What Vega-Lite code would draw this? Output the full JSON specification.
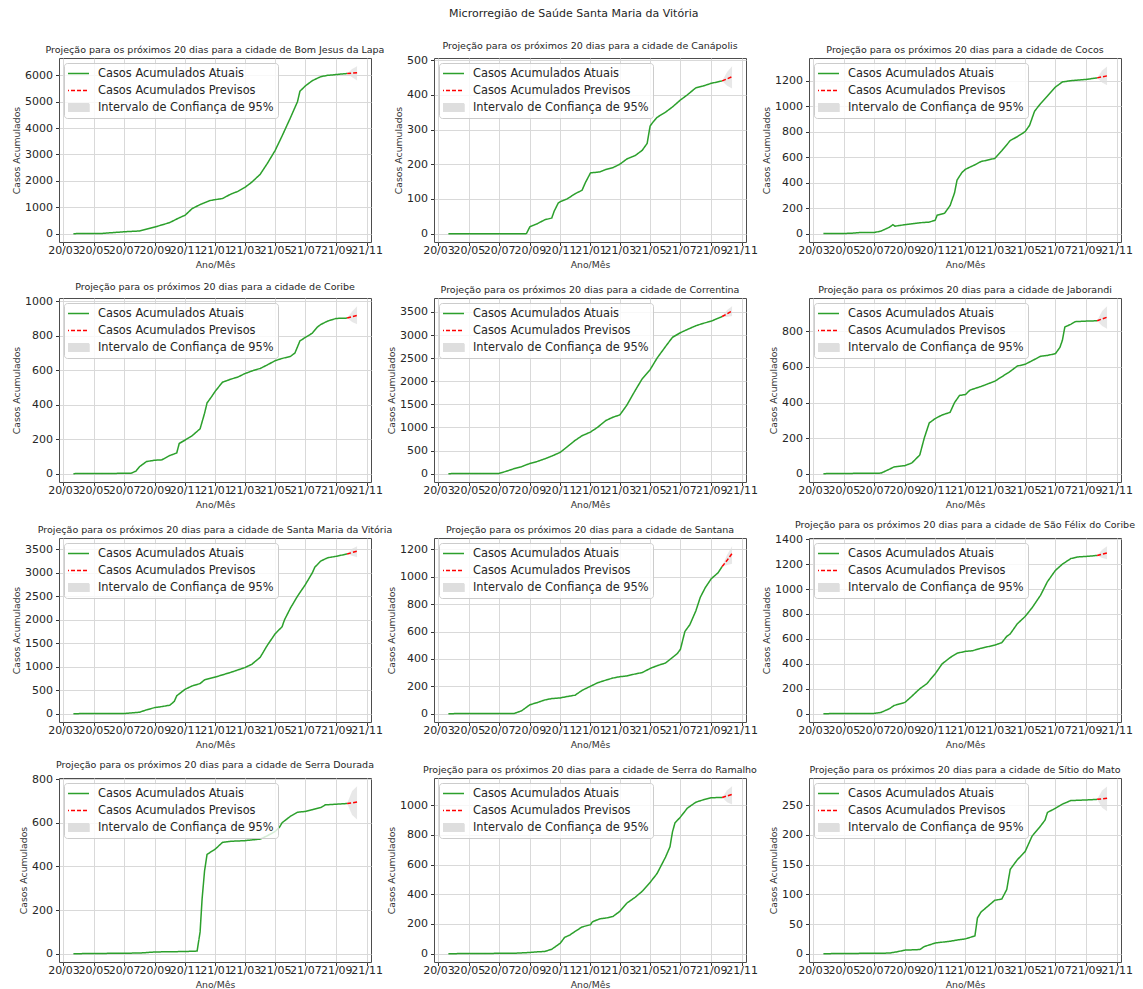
{
"$schema": "https://vega.github.io/schema/vega-lite/v6.json",
"background": "white",
"padding": {"left": 12, "top": 8, "right": 5, "bottom": 0},
"title": {"text": "Microrregião de Saúde Santa Maria da Vitória", "fontSize": 11, "offset": 21},
"datasets": {"casos": [
{"cidade":"Bom Jesus da Lapa","data":"2020-03-21","tipo":"atual","valor":0},
{"cidade":"Bom Jesus da Lapa","data":"2020-05-15","tipo":"atual","valor":5},
{"cidade":"Bom Jesus da Lapa","data":"2020-07-01","tipo":"atual","valor":70},
{"cidade":"Bom Jesus da Lapa","data":"2020-08-01","tipo":"atual","valor":100},
{"cidade":"Bom Jesus da Lapa","data":"2020-09-01","tipo":"atual","valor":250},
{"cidade":"Bom Jesus da Lapa","data":"2020-10-01","tipo":"atual","valor":420},
{"cidade":"Bom Jesus da Lapa","data":"2020-10-20","tipo":"atual","valor":600},
{"cidade":"Bom Jesus da Lapa","data":"2020-11-01","tipo":"atual","valor":700},
{"cidade":"Bom Jesus da Lapa","data":"2020-11-15","tipo":"atual","valor":950},
{"cidade":"Bom Jesus da Lapa","data":"2020-12-01","tipo":"atual","valor":1100},
{"cidade":"Bom Jesus da Lapa","data":"2020-12-20","tipo":"atual","valor":1250},
{"cidade":"Bom Jesus da Lapa","data":"2021-01-01","tipo":"atual","valor":1290},
{"cidade":"Bom Jesus da Lapa","data":"2021-01-15","tipo":"atual","valor":1330},
{"cidade":"Bom Jesus da Lapa","data":"2021-02-01","tipo":"atual","valor":1500},
{"cidade":"Bom Jesus da Lapa","data":"2021-02-15","tipo":"atual","valor":1600},
{"cidade":"Bom Jesus da Lapa","data":"2021-03-01","tipo":"atual","valor":1750},
{"cidade":"Bom Jesus da Lapa","data":"2021-03-15","tipo":"atual","valor":1950},
{"cidade":"Bom Jesus da Lapa","data":"2021-04-01","tipo":"atual","valor":2250},
{"cidade":"Bom Jesus da Lapa","data":"2021-04-15","tipo":"atual","valor":2650},
{"cidade":"Bom Jesus da Lapa","data":"2021-05-01","tipo":"atual","valor":3150},
{"cidade":"Bom Jesus da Lapa","data":"2021-05-15","tipo":"atual","valor":3700},
{"cidade":"Bom Jesus da Lapa","data":"2021-06-01","tipo":"atual","valor":4400},
{"cidade":"Bom Jesus da Lapa","data":"2021-06-15","tipo":"atual","valor":5000},
{"cidade":"Bom Jesus da Lapa","data":"2021-06-20","tipo":"atual","valor":5400},
{"cidade":"Bom Jesus da Lapa","data":"2021-07-01","tipo":"atual","valor":5600},
{"cidade":"Bom Jesus da Lapa","data":"2021-07-15","tipo":"atual","valor":5800},
{"cidade":"Bom Jesus da Lapa","data":"2021-08-01","tipo":"atual","valor":5950},
{"cidade":"Bom Jesus da Lapa","data":"2021-08-15","tipo":"atual","valor":6000},
{"cidade":"Bom Jesus da Lapa","data":"2021-09-01","tipo":"atual","valor":6030},
{"cidade":"Bom Jesus da Lapa","data":"2021-09-23","tipo":"atual","valor":6070},
{"cidade":"Bom Jesus da Lapa","data":"2021-09-23","tipo":"previsto","valor":6070,"inferior":6070,"superior":6070},
{"cidade":"Bom Jesus da Lapa","data":"2021-10-03","tipo":"previsto","valor":6085,"inferior":5930,"superior":6240},
{"cidade":"Bom Jesus da Lapa","data":"2021-10-13","tipo":"previsto","valor":6100,"inferior":5800,"superior":6340},

{"cidade":"Canápolis","data":"2020-03-21","tipo":"atual","valor":0},
{"cidade":"Canápolis","data":"2020-08-25","tipo":"atual","valor":0},
{"cidade":"Canápolis","data":"2020-09-01","tipo":"atual","valor":20},
{"cidade":"Canápolis","data":"2020-09-15","tipo":"atual","valor":28},
{"cidade":"Canápolis","data":"2020-10-01","tipo":"atual","valor":40},
{"cidade":"Canápolis","data":"2020-10-15","tipo":"atual","valor":45},
{"cidade":"Canápolis","data":"2020-10-20","tipo":"atual","valor":65},
{"cidade":"Canápolis","data":"2020-10-28","tipo":"atual","valor":88},
{"cidade":"Canápolis","data":"2020-11-01","tipo":"atual","valor":92},
{"cidade":"Canápolis","data":"2020-11-15","tipo":"atual","valor":100},
{"cidade":"Canápolis","data":"2020-12-01","tipo":"atual","valor":115},
{"cidade":"Canápolis","data":"2020-12-15","tipo":"atual","valor":125},
{"cidade":"Canápolis","data":"2020-12-22","tipo":"atual","valor":148},
{"cidade":"Canápolis","data":"2021-01-01","tipo":"atual","valor":175},
{"cidade":"Canápolis","data":"2021-01-20","tipo":"atual","valor":178},
{"cidade":"Canápolis","data":"2021-02-01","tipo":"atual","valor":185},
{"cidade":"Canápolis","data":"2021-02-15","tipo":"atual","valor":190},
{"cidade":"Canápolis","data":"2021-03-01","tipo":"atual","valor":200},
{"cidade":"Canápolis","data":"2021-03-15","tipo":"atual","valor":215},
{"cidade":"Canápolis","data":"2021-04-01","tipo":"atual","valor":225},
{"cidade":"Canápolis","data":"2021-04-15","tipo":"atual","valor":240},
{"cidade":"Canápolis","data":"2021-04-25","tipo":"atual","valor":260},
{"cidade":"Canápolis","data":"2021-05-01","tipo":"atual","valor":310},
{"cidade":"Canápolis","data":"2021-05-05","tipo":"atual","valor":318},
{"cidade":"Canápolis","data":"2021-05-15","tipo":"atual","valor":335},
{"cidade":"Canápolis","data":"2021-06-01","tipo":"atual","valor":350},
{"cidade":"Canápolis","data":"2021-06-15","tipo":"atual","valor":365},
{"cidade":"Canápolis","data":"2021-07-01","tipo":"atual","valor":385},
{"cidade":"Canápolis","data":"2021-07-15","tipo":"atual","valor":400},
{"cidade":"Canápolis","data":"2021-08-01","tipo":"atual","valor":420},
{"cidade":"Canápolis","data":"2021-08-15","tipo":"atual","valor":425},
{"cidade":"Canápolis","data":"2021-09-01","tipo":"atual","valor":433},
{"cidade":"Canápolis","data":"2021-09-23","tipo":"atual","valor":440},
{"cidade":"Canápolis","data":"2021-09-23","tipo":"previsto","valor":440,"inferior":440,"superior":440},
{"cidade":"Canápolis","data":"2021-10-03","tipo":"previsto","valor":446,"inferior":426,"superior":466},
{"cidade":"Canápolis","data":"2021-10-13","tipo":"previsto","valor":452,"inferior":418,"superior":482},

{"cidade":"Cocos","data":"2020-03-21","tipo":"atual","valor":0},
{"cidade":"Cocos","data":"2020-05-15","tipo":"atual","valor":2},
{"cidade":"Cocos","data":"2020-06-01","tipo":"atual","valor":8},
{"cidade":"Cocos","data":"2020-07-01","tipo":"atual","valor":8},
{"cidade":"Cocos","data":"2020-07-15","tipo":"atual","valor":20},
{"cidade":"Cocos","data":"2020-08-01","tipo":"atual","valor":50},
{"cidade":"Cocos","data":"2020-08-08","tipo":"atual","valor":70},
{"cidade":"Cocos","data":"2020-08-12","tipo":"atual","valor":58},
{"cidade":"Cocos","data":"2020-09-01","tipo":"atual","valor":70},
{"cidade":"Cocos","data":"2020-10-01","tipo":"atual","valor":85},
{"cidade":"Cocos","data":"2020-10-20","tipo":"atual","valor":90},
{"cidade":"Cocos","data":"2020-11-01","tipo":"atual","valor":105},
{"cidade":"Cocos","data":"2020-11-05","tipo":"atual","valor":145},
{"cidade":"Cocos","data":"2020-11-20","tipo":"atual","valor":160},
{"cidade":"Cocos","data":"2020-12-01","tipo":"atual","valor":220},
{"cidade":"Cocos","data":"2020-12-10","tipo":"atual","valor":320},
{"cidade":"Cocos","data":"2020-12-15","tipo":"atual","valor":420},
{"cidade":"Cocos","data":"2020-12-25","tipo":"atual","valor":480},
{"cidade":"Cocos","data":"2021-01-01","tipo":"atual","valor":505},
{"cidade":"Cocos","data":"2021-01-20","tipo":"atual","valor":540},
{"cidade":"Cocos","data":"2021-02-01","tipo":"atual","valor":565},
{"cidade":"Cocos","data":"2021-03-01","tipo":"atual","valor":590},
{"cidade":"Cocos","data":"2021-03-15","tipo":"atual","valor":650},
{"cidade":"Cocos","data":"2021-04-01","tipo":"atual","valor":730},
{"cidade":"Cocos","data":"2021-04-15","tipo":"atual","valor":760},
{"cidade":"Cocos","data":"2021-05-01","tipo":"atual","valor":800},
{"cidade":"Cocos","data":"2021-05-10","tipo":"atual","valor":850},
{"cidade":"Cocos","data":"2021-05-20","tipo":"atual","valor":960},
{"cidade":"Cocos","data":"2021-06-01","tipo":"atual","valor":1020},
{"cidade":"Cocos","data":"2021-06-15","tipo":"atual","valor":1080},
{"cidade":"Cocos","data":"2021-07-01","tipo":"atual","valor":1150},
{"cidade":"Cocos","data":"2021-07-15","tipo":"atual","valor":1190},
{"cidade":"Cocos","data":"2021-08-01","tipo":"atual","valor":1200},
{"cidade":"Cocos","data":"2021-09-01","tipo":"atual","valor":1210},
{"cidade":"Cocos","data":"2021-09-23","tipo":"atual","valor":1222},
{"cidade":"Cocos","data":"2021-09-23","tipo":"previsto","valor":1222,"inferior":1222,"superior":1222},
{"cidade":"Cocos","data":"2021-10-03","tipo":"previsto","valor":1230,"inferior":1185,"superior":1280},
{"cidade":"Cocos","data":"2021-10-13","tipo":"previsto","valor":1238,"inferior":1165,"superior":1312},

{"cidade":"Coribe","data":"2020-03-21","tipo":"atual","valor":0},
{"cidade":"Coribe","data":"2020-07-15","tipo":"atual","valor":2},
{"cidade":"Coribe","data":"2020-07-25","tipo":"atual","valor":15},
{"cidade":"Coribe","data":"2020-08-01","tipo":"atual","valor":40},
{"cidade":"Coribe","data":"2020-08-15","tipo":"atual","valor":70},
{"cidade":"Coribe","data":"2020-09-01","tipo":"atual","valor":78},
{"cidade":"Coribe","data":"2020-09-15","tipo":"atual","valor":80},
{"cidade":"Coribe","data":"2020-10-01","tipo":"atual","valor":105},
{"cidade":"Coribe","data":"2020-10-15","tipo":"atual","valor":120},
{"cidade":"Coribe","data":"2020-10-20","tipo":"atual","valor":175},
{"cidade":"Coribe","data":"2020-11-01","tipo":"atual","valor":195},
{"cidade":"Coribe","data":"2020-11-15","tipo":"atual","valor":220},
{"cidade":"Coribe","data":"2020-12-01","tipo":"atual","valor":260},
{"cidade":"Coribe","data":"2020-12-10","tipo":"atual","valor":350},
{"cidade":"Coribe","data":"2020-12-15","tipo":"atual","valor":410},
{"cidade":"Coribe","data":"2020-12-25","tipo":"atual","valor":450},
{"cidade":"Coribe","data":"2021-01-01","tipo":"atual","valor":480},
{"cidade":"Coribe","data":"2021-01-15","tipo":"atual","valor":530},
{"cidade":"Coribe","data":"2021-02-01","tipo":"atual","valor":548},
{"cidade":"Coribe","data":"2021-02-15","tipo":"atual","valor":560},
{"cidade":"Coribe","data":"2021-03-01","tipo":"atual","valor":580},
{"cidade":"Coribe","data":"2021-03-20","tipo":"atual","valor":600},
{"cidade":"Coribe","data":"2021-04-01","tipo":"atual","valor":610},
{"cidade":"Coribe","data":"2021-04-15","tipo":"atual","valor":630},
{"cidade":"Coribe","data":"2021-05-01","tipo":"atual","valor":655},
{"cidade":"Coribe","data":"2021-05-15","tipo":"atual","valor":668},
{"cidade":"Coribe","data":"2021-06-01","tipo":"atual","valor":680},
{"cidade":"Coribe","data":"2021-06-10","tipo":"atual","valor":700},
{"cidade":"Coribe","data":"2021-06-20","tipo":"atual","valor":770},
{"cidade":"Coribe","data":"2021-07-01","tipo":"atual","valor":790},
{"cidade":"Coribe","data":"2021-07-15","tipo":"atual","valor":815},
{"cidade":"Coribe","data":"2021-07-25","tipo":"atual","valor":850},
{"cidade":"Coribe","data":"2021-08-01","tipo":"atual","valor":865},
{"cidade":"Coribe","data":"2021-08-15","tipo":"atual","valor":885},
{"cidade":"Coribe","data":"2021-09-01","tipo":"atual","valor":900},
{"cidade":"Coribe","data":"2021-09-23","tipo":"atual","valor":902},
{"cidade":"Coribe","data":"2021-09-23","tipo":"previsto","valor":902,"inferior":902,"superior":902},
{"cidade":"Coribe","data":"2021-10-03","tipo":"previsto","valor":910,"inferior":880,"superior":940},
{"cidade":"Coribe","data":"2021-10-13","tipo":"previsto","valor":918,"inferior":866,"superior":970},

{"cidade":"Correntina","data":"2020-03-21","tipo":"atual","valor":0},
{"cidade":"Correntina","data":"2020-07-01","tipo":"atual","valor":5},
{"cidade":"Correntina","data":"2020-07-15","tipo":"atual","valor":50},
{"cidade":"Correntina","data":"2020-08-01","tipo":"atual","valor":110},
{"cidade":"Correntina","data":"2020-08-15","tipo":"atual","valor":150},
{"cidade":"Correntina","data":"2020-09-01","tipo":"atual","valor":220},
{"cidade":"Correntina","data":"2020-09-15","tipo":"atual","valor":260},
{"cidade":"Correntina","data":"2020-10-01","tipo":"atual","valor":320},
{"cidade":"Correntina","data":"2020-10-15","tipo":"atual","valor":380},
{"cidade":"Correntina","data":"2020-11-01","tipo":"atual","valor":460},
{"cidade":"Correntina","data":"2020-11-15","tipo":"atual","valor":580},
{"cidade":"Correntina","data":"2020-12-01","tipo":"atual","valor":720},
{"cidade":"Correntina","data":"2020-12-15","tipo":"atual","valor":820},
{"cidade":"Correntina","data":"2021-01-01","tipo":"atual","valor":900},
{"cidade":"Correntina","data":"2021-01-15","tipo":"atual","valor":1000},
{"cidade":"Correntina","data":"2021-02-01","tipo":"atual","valor":1150},
{"cidade":"Correntina","data":"2021-02-15","tipo":"atual","valor":1220},
{"cidade":"Correntina","data":"2021-03-01","tipo":"atual","valor":1270},
{"cidade":"Correntina","data":"2021-03-15","tipo":"atual","valor":1480},
{"cidade":"Correntina","data":"2021-04-01","tipo":"atual","valor":1800},
{"cidade":"Correntina","data":"2021-04-15","tipo":"atual","valor":2050},
{"cidade":"Correntina","data":"2021-05-01","tipo":"atual","valor":2250},
{"cidade":"Correntina","data":"2021-05-15","tipo":"atual","valor":2500},
{"cidade":"Correntina","data":"2021-06-01","tipo":"atual","valor":2750},
{"cidade":"Correntina","data":"2021-06-15","tipo":"atual","valor":2950},
{"cidade":"Correntina","data":"2021-07-01","tipo":"atual","valor":3050},
{"cidade":"Correntina","data":"2021-07-15","tipo":"atual","valor":3120},
{"cidade":"Correntina","data":"2021-08-01","tipo":"atual","valor":3200},
{"cidade":"Correntina","data":"2021-08-15","tipo":"atual","valor":3250},
{"cidade":"Correntina","data":"2021-09-01","tipo":"atual","valor":3300},
{"cidade":"Correntina","data":"2021-09-23","tipo":"atual","valor":3400},
{"cidade":"Correntina","data":"2021-09-23","tipo":"previsto","valor":3400,"inferior":3400,"superior":3400},
{"cidade":"Correntina","data":"2021-10-03","tipo":"previsto","valor":3460,"inferior":3390,"superior":3540},
{"cidade":"Correntina","data":"2021-10-13","tipo":"previsto","valor":3520,"inferior":3410,"superior":3620},

{"cidade":"Jaborandi","data":"2020-03-21","tipo":"atual","valor":0},
{"cidade":"Jaborandi","data":"2020-07-15","tipo":"atual","valor":3},
{"cidade":"Jaborandi","data":"2020-08-01","tipo":"atual","valor":25},
{"cidade":"Jaborandi","data":"2020-08-10","tipo":"atual","valor":38},
{"cidade":"Jaborandi","data":"2020-09-01","tipo":"atual","valor":45},
{"cidade":"Jaborandi","data":"2020-09-15","tipo":"atual","valor":60},
{"cidade":"Jaborandi","data":"2020-10-01","tipo":"atual","valor":105},
{"cidade":"Jaborandi","data":"2020-10-10","tipo":"atual","valor":200},
{"cidade":"Jaborandi","data":"2020-10-20","tipo":"atual","valor":285},
{"cidade":"Jaborandi","data":"2020-11-01","tipo":"atual","valor":310},
{"cidade":"Jaborandi","data":"2020-11-15","tipo":"atual","valor":330},
{"cidade":"Jaborandi","data":"2020-12-01","tipo":"atual","valor":345},
{"cidade":"Jaborandi","data":"2020-12-10","tipo":"atual","valor":400},
{"cidade":"Jaborandi","data":"2020-12-20","tipo":"atual","valor":440},
{"cidade":"Jaborandi","data":"2021-01-01","tipo":"atual","valor":445},
{"cidade":"Jaborandi","data":"2021-01-10","tipo":"atual","valor":470},
{"cidade":"Jaborandi","data":"2021-02-01","tipo":"atual","valor":490},
{"cidade":"Jaborandi","data":"2021-03-01","tipo":"atual","valor":520},
{"cidade":"Jaborandi","data":"2021-04-01","tipo":"atual","valor":575},
{"cidade":"Jaborandi","data":"2021-04-15","tipo":"atual","valor":605},
{"cidade":"Jaborandi","data":"2021-05-01","tipo":"atual","valor":615},
{"cidade":"Jaborandi","data":"2021-05-15","tipo":"atual","valor":635},
{"cidade":"Jaborandi","data":"2021-06-01","tipo":"atual","valor":660},
{"cidade":"Jaborandi","data":"2021-06-15","tipo":"atual","valor":665},
{"cidade":"Jaborandi","data":"2021-07-01","tipo":"atual","valor":675},
{"cidade":"Jaborandi","data":"2021-07-10","tipo":"atual","valor":710},
{"cidade":"Jaborandi","data":"2021-07-15","tipo":"atual","valor":750},
{"cidade":"Jaborandi","data":"2021-07-20","tipo":"atual","valor":825},
{"cidade":"Jaborandi","data":"2021-08-01","tipo":"atual","valor":840},
{"cidade":"Jaborandi","data":"2021-08-10","tipo":"atual","valor":855},
{"cidade":"Jaborandi","data":"2021-09-01","tipo":"atual","valor":858},
{"cidade":"Jaborandi","data":"2021-09-23","tipo":"atual","valor":860},
{"cidade":"Jaborandi","data":"2021-09-23","tipo":"previsto","valor":860,"inferior":860,"superior":860},
{"cidade":"Jaborandi","data":"2021-10-03","tipo":"previsto","valor":870,"inferior":830,"superior":915},
{"cidade":"Jaborandi","data":"2021-10-13","tipo":"previsto","valor":880,"inferior":815,"superior":941},

{"cidade":"Santa Maria da Vitória","data":"2020-03-21","tipo":"atual","valor":0},
{"cidade":"Santa Maria da Vitória","data":"2020-07-01","tipo":"atual","valor":3},
{"cidade":"Santa Maria da Vitória","data":"2020-08-01","tipo":"atual","valor":30},
{"cidade":"Santa Maria da Vitória","data":"2020-08-15","tipo":"atual","valor":80},
{"cidade":"Santa Maria da Vitória","data":"2020-09-01","tipo":"atual","valor":130},
{"cidade":"Santa Maria da Vitória","data":"2020-09-15","tipo":"atual","valor":150},
{"cidade":"Santa Maria da Vitória","data":"2020-10-01","tipo":"atual","valor":180},
{"cidade":"Santa Maria da Vitória","data":"2020-10-10","tipo":"atual","valor":260},
{"cidade":"Santa Maria da Vitória","data":"2020-10-15","tipo":"atual","valor":380},
{"cidade":"Santa Maria da Vitória","data":"2020-11-01","tipo":"atual","valor":520},
{"cidade":"Santa Maria da Vitória","data":"2020-11-15","tipo":"atual","valor":590},
{"cidade":"Santa Maria da Vitória","data":"2020-12-01","tipo":"atual","valor":640},
{"cidade":"Santa Maria da Vitória","data":"2020-12-10","tipo":"atual","valor":720},
{"cidade":"Santa Maria da Vitória","data":"2021-01-01","tipo":"atual","valor":780},
{"cidade":"Santa Maria da Vitória","data":"2021-02-01","tipo":"atual","valor":880},
{"cidade":"Santa Maria da Vitória","data":"2021-03-01","tipo":"atual","valor":980},
{"cidade":"Santa Maria da Vitória","data":"2021-03-15","tipo":"atual","valor":1050},
{"cidade":"Santa Maria da Vitória","data":"2021-04-01","tipo":"atual","valor":1200},
{"cidade":"Santa Maria da Vitória","data":"2021-04-15","tipo":"atual","valor":1450},
{"cidade":"Santa Maria da Vitória","data":"2021-05-01","tipo":"atual","valor":1700},
{"cidade":"Santa Maria da Vitória","data":"2021-05-15","tipo":"atual","valor":1850},
{"cidade":"Santa Maria da Vitória","data":"2021-05-20","tipo":"atual","valor":2000},
{"cidade":"Santa Maria da Vitória","data":"2021-06-01","tipo":"atual","valor":2250},
{"cidade":"Santa Maria da Vitória","data":"2021-06-15","tipo":"atual","valor":2500},
{"cidade":"Santa Maria da Vitória","data":"2021-07-01","tipo":"atual","valor":2750},
{"cidade":"Santa Maria da Vitória","data":"2021-07-15","tipo":"atual","valor":3000},
{"cidade":"Santa Maria da Vitória","data":"2021-07-20","tipo":"atual","valor":3120},
{"cidade":"Santa Maria da Vitória","data":"2021-08-01","tipo":"atual","valor":3250},
{"cidade":"Santa Maria da Vitória","data":"2021-08-15","tipo":"atual","valor":3320},
{"cidade":"Santa Maria da Vitória","data":"2021-09-01","tipo":"atual","valor":3350},
{"cidade":"Santa Maria da Vitória","data":"2021-09-23","tipo":"atual","valor":3400},
{"cidade":"Santa Maria da Vitória","data":"2021-09-23","tipo":"previsto","valor":3400,"inferior":3400,"superior":3400},
{"cidade":"Santa Maria da Vitória","data":"2021-10-03","tipo":"previsto","valor":3430,"inferior":3360,"superior":3510},
{"cidade":"Santa Maria da Vitória","data":"2021-10-13","tipo":"previsto","valor":3460,"inferior":3330,"superior":3562},

{"cidade":"Santana","data":"2020-03-21","tipo":"atual","valor":0},
{"cidade":"Santana","data":"2020-08-01","tipo":"atual","valor":2},
{"cidade":"Santana","data":"2020-08-15","tipo":"atual","valor":20},
{"cidade":"Santana","data":"2020-09-01","tipo":"atual","valor":65},
{"cidade":"Santana","data":"2020-09-15","tipo":"atual","valor":80},
{"cidade":"Santana","data":"2020-10-01","tipo":"atual","valor":100},
{"cidade":"Santana","data":"2020-10-15","tipo":"atual","valor":110},
{"cidade":"Santana","data":"2020-11-01","tipo":"atual","valor":115},
{"cidade":"Santana","data":"2020-11-15","tipo":"atual","valor":125},
{"cidade":"Santana","data":"2020-12-01","tipo":"atual","valor":135},
{"cidade":"Santana","data":"2020-12-15","tipo":"atual","valor":170},
{"cidade":"Santana","data":"2021-01-01","tipo":"atual","valor":200},
{"cidade":"Santana","data":"2021-01-15","tipo":"atual","valor":225},
{"cidade":"Santana","data":"2021-02-01","tipo":"atual","valor":245},
{"cidade":"Santana","data":"2021-02-15","tipo":"atual","valor":260},
{"cidade":"Santana","data":"2021-03-01","tipo":"atual","valor":270},
{"cidade":"Santana","data":"2021-03-15","tipo":"atual","valor":275},
{"cidade":"Santana","data":"2021-04-01","tipo":"atual","valor":290},
{"cidade":"Santana","data":"2021-04-15","tipo":"atual","valor":300},
{"cidade":"Santana","data":"2021-05-01","tipo":"atual","valor":330},
{"cidade":"Santana","data":"2021-05-15","tipo":"atual","valor":350},
{"cidade":"Santana","data":"2021-06-01","tipo":"atual","valor":370},
{"cidade":"Santana","data":"2021-06-15","tipo":"atual","valor":410},
{"cidade":"Santana","data":"2021-06-25","tipo":"atual","valor":440},
{"cidade":"Santana","data":"2021-07-01","tipo":"atual","valor":470},
{"cidade":"Santana","data":"2021-07-10","tipo":"atual","valor":600},
{"cidade":"Santana","data":"2021-07-20","tipo":"atual","valor":650},
{"cidade":"Santana","data":"2021-08-01","tipo":"atual","valor":750},
{"cidade":"Santana","data":"2021-08-10","tipo":"atual","valor":850},
{"cidade":"Santana","data":"2021-08-20","tipo":"atual","valor":920},
{"cidade":"Santana","data":"2021-09-01","tipo":"atual","valor":985},
{"cidade":"Santana","data":"2021-09-15","tipo":"atual","valor":1030},
{"cidade":"Santana","data":"2021-09-23","tipo":"atual","valor":1075},
{"cidade":"Santana","data":"2021-09-23","tipo":"previsto","valor":1075,"inferior":1075,"superior":1075},
{"cidade":"Santana","data":"2021-10-03","tipo":"previsto","valor":1120,"inferior":1085,"superior":1160},
{"cidade":"Santana","data":"2021-10-13","tipo":"previsto","valor":1170,"inferior":1095,"superior":1222},

{"cidade":"São Félix do Coribe","data":"2020-03-21","tipo":"atual","valor":0},
{"cidade":"São Félix do Coribe","data":"2020-07-01","tipo":"atual","valor":2},
{"cidade":"São Félix do Coribe","data":"2020-07-15","tipo":"atual","valor":10},
{"cidade":"São Félix do Coribe","data":"2020-08-01","tipo":"atual","valor":40},
{"cidade":"São Félix do Coribe","data":"2020-08-10","tipo":"atual","valor":65},
{"cidade":"São Félix do Coribe","data":"2020-09-01","tipo":"atual","valor":90},
{"cidade":"São Félix do Coribe","data":"2020-09-15","tipo":"atual","valor":140},
{"cidade":"São Félix do Coribe","data":"2020-10-01","tipo":"atual","valor":200},
{"cidade":"São Félix do Coribe","data":"2020-10-15","tipo":"atual","valor":240},
{"cidade":"São Félix do Coribe","data":"2020-11-01","tipo":"atual","valor":320},
{"cidade":"São Félix do Coribe","data":"2020-11-15","tipo":"atual","valor":400},
{"cidade":"São Félix do Coribe","data":"2020-12-01","tipo":"atual","valor":450},
{"cidade":"São Félix do Coribe","data":"2020-12-15","tipo":"atual","valor":485},
{"cidade":"São Félix do Coribe","data":"2021-01-01","tipo":"atual","valor":500},
{"cidade":"São Félix do Coribe","data":"2021-01-15","tipo":"atual","valor":505},
{"cidade":"São Félix do Coribe","data":"2021-02-01","tipo":"atual","valor":525},
{"cidade":"São Félix do Coribe","data":"2021-03-01","tipo":"atual","valor":550},
{"cidade":"São Félix do Coribe","data":"2021-03-15","tipo":"atual","valor":570},
{"cidade":"São Félix do Coribe","data":"2021-03-25","tipo":"atual","valor":620},
{"cidade":"São Félix do Coribe","data":"2021-04-01","tipo":"atual","valor":640},
{"cidade":"São Félix do Coribe","data":"2021-04-15","tipo":"atual","valor":720},
{"cidade":"São Félix do Coribe","data":"2021-05-01","tipo":"atual","valor":780},
{"cidade":"São Félix do Coribe","data":"2021-05-15","tipo":"atual","valor":850},
{"cidade":"São Félix do Coribe","data":"2021-06-01","tipo":"atual","valor":950},
{"cidade":"São Félix do Coribe","data":"2021-06-15","tipo":"atual","valor":1060},
{"cidade":"São Félix do Coribe","data":"2021-07-01","tipo":"atual","valor":1150},
{"cidade":"São Félix do Coribe","data":"2021-07-15","tipo":"atual","valor":1200},
{"cidade":"São Félix do Coribe","data":"2021-08-01","tipo":"atual","valor":1245},
{"cidade":"São Félix do Coribe","data":"2021-08-15","tipo":"atual","valor":1258},
{"cidade":"São Félix do Coribe","data":"2021-09-01","tipo":"atual","valor":1262},
{"cidade":"São Félix do Coribe","data":"2021-09-23","tipo":"atual","valor":1270},
{"cidade":"São Félix do Coribe","data":"2021-09-23","tipo":"previsto","valor":1270,"inferior":1270,"superior":1270},
{"cidade":"São Félix do Coribe","data":"2021-10-03","tipo":"previsto","valor":1280,"inferior":1250,"superior":1315},
{"cidade":"São Félix do Coribe","data":"2021-10-13","tipo":"previsto","valor":1290,"inferior":1240,"superior":1343},

{"cidade":"Serra Dourada","data":"2020-03-21","tipo":"atual","valor":0},
{"cidade":"Serra Dourada","data":"2020-08-01","tipo":"atual","valor":3},
{"cidade":"Serra Dourada","data":"2020-09-01","tipo":"atual","valor":8},
{"cidade":"Serra Dourada","data":"2020-11-01","tipo":"atual","valor":10},
{"cidade":"Serra Dourada","data":"2020-11-25","tipo":"atual","valor":12},
{"cidade":"Serra Dourada","data":"2020-12-01","tipo":"atual","valor":100},
{"cidade":"Serra Dourada","data":"2020-12-05","tipo":"atual","valor":250},
{"cidade":"Serra Dourada","data":"2020-12-10","tipo":"atual","valor":380},
{"cidade":"Serra Dourada","data":"2020-12-15","tipo":"atual","valor":455},
{"cidade":"Serra Dourada","data":"2021-01-01","tipo":"atual","valor":480},
{"cidade":"Serra Dourada","data":"2021-01-15","tipo":"atual","valor":510},
{"cidade":"Serra Dourada","data":"2021-02-01","tipo":"atual","valor":515},
{"cidade":"Serra Dourada","data":"2021-03-01","tipo":"atual","valor":518},
{"cidade":"Serra Dourada","data":"2021-04-01","tipo":"atual","valor":525},
{"cidade":"Serra Dourada","data":"2021-04-15","tipo":"atual","valor":540},
{"cidade":"Serra Dourada","data":"2021-05-01","tipo":"atual","valor":560},
{"cidade":"Serra Dourada","data":"2021-05-10","tipo":"atual","valor":580},
{"cidade":"Serra Dourada","data":"2021-05-15","tipo":"atual","valor":600},
{"cidade":"Serra Dourada","data":"2021-06-01","tipo":"atual","valor":630},
{"cidade":"Serra Dourada","data":"2021-06-15","tipo":"atual","valor":648},
{"cidade":"Serra Dourada","data":"2021-07-01","tipo":"atual","valor":652},
{"cidade":"Serra Dourada","data":"2021-07-15","tipo":"atual","valor":660},
{"cidade":"Serra Dourada","data":"2021-08-01","tipo":"atual","valor":670},
{"cidade":"Serra Dourada","data":"2021-08-10","tipo":"atual","valor":682},
{"cidade":"Serra Dourada","data":"2021-09-01","tipo":"atual","valor":685},
{"cidade":"Serra Dourada","data":"2021-09-23","tipo":"atual","valor":688},
{"cidade":"Serra Dourada","data":"2021-09-23","tipo":"previsto","valor":688,"inferior":688,"superior":688},
{"cidade":"Serra Dourada","data":"2021-10-03","tipo":"previsto","valor":691,"inferior":635,"superior":745},
{"cidade":"Serra Dourada","data":"2021-10-13","tipo":"previsto","valor":695,"inferior":615,"superior":767},

{"cidade":"Serra do Ramalho","data":"2020-03-21","tipo":"atual","valor":0},
{"cidade":"Serra do Ramalho","data":"2020-08-01","tipo":"atual","valor":3},
{"cidade":"Serra do Ramalho","data":"2020-09-01","tipo":"atual","valor":8},
{"cidade":"Serra do Ramalho","data":"2020-09-15","tipo":"atual","valor":12},
{"cidade":"Serra do Ramalho","data":"2020-10-01","tipo":"atual","valor":15},
{"cidade":"Serra do Ramalho","data":"2020-10-15","tipo":"atual","valor":30},
{"cidade":"Serra do Ramalho","data":"2020-11-01","tipo":"atual","valor":70},
{"cidade":"Serra do Ramalho","data":"2020-11-10","tipo":"atual","valor":110},
{"cidade":"Serra do Ramalho","data":"2020-11-20","tipo":"atual","valor":125},
{"cidade":"Serra do Ramalho","data":"2020-12-01","tipo":"atual","valor":150},
{"cidade":"Serra do Ramalho","data":"2020-12-15","tipo":"atual","valor":180},
{"cidade":"Serra do Ramalho","data":"2021-01-01","tipo":"atual","valor":195},
{"cidade":"Serra do Ramalho","data":"2021-01-05","tipo":"atual","valor":215},
{"cidade":"Serra do Ramalho","data":"2021-01-20","tipo":"atual","valor":235},
{"cidade":"Serra do Ramalho","data":"2021-02-01","tipo":"atual","valor":240},
{"cidade":"Serra do Ramalho","data":"2021-02-15","tipo":"atual","valor":250},
{"cidade":"Serra do Ramalho","data":"2021-03-01","tipo":"atual","valor":285},
{"cidade":"Serra do Ramalho","data":"2021-03-15","tipo":"atual","valor":340},
{"cidade":"Serra do Ramalho","data":"2021-04-01","tipo":"atual","valor":380},
{"cidade":"Serra do Ramalho","data":"2021-04-15","tipo":"atual","valor":420},
{"cidade":"Serra do Ramalho","data":"2021-05-01","tipo":"atual","valor":480},
{"cidade":"Serra do Ramalho","data":"2021-05-15","tipo":"atual","valor":540},
{"cidade":"Serra do Ramalho","data":"2021-06-01","tipo":"atual","valor":650},
{"cidade":"Serra do Ramalho","data":"2021-06-10","tipo":"atual","valor":720},
{"cidade":"Serra do Ramalho","data":"2021-06-15","tipo":"atual","valor":820},
{"cidade":"Serra do Ramalho","data":"2021-06-20","tipo":"atual","valor":880},
{"cidade":"Serra do Ramalho","data":"2021-07-01","tipo":"atual","valor":920},
{"cidade":"Serra do Ramalho","data":"2021-07-15","tipo":"atual","valor":980},
{"cidade":"Serra do Ramalho","data":"2021-08-01","tipo":"atual","valor":1020},
{"cidade":"Serra do Ramalho","data":"2021-08-15","tipo":"atual","valor":1035},
{"cidade":"Serra do Ramalho","data":"2021-09-01","tipo":"atual","valor":1050},
{"cidade":"Serra do Ramalho","data":"2021-09-23","tipo":"atual","valor":1052},
{"cidade":"Serra do Ramalho","data":"2021-09-23","tipo":"previsto","valor":1052,"inferior":1052,"superior":1052},
{"cidade":"Serra do Ramalho","data":"2021-10-03","tipo":"previsto","valor":1062,"inferior":1020,"superior":1100},
{"cidade":"Serra do Ramalho","data":"2021-10-13","tipo":"previsto","valor":1072,"inferior":1005,"superior":1127},

{"cidade":"Sítio do Mato","data":"2020-03-21","tipo":"atual","valor":0},
{"cidade":"Sítio do Mato","data":"2020-08-01","tipo":"atual","valor":1},
{"cidade":"Sítio do Mato","data":"2020-08-15","tipo":"atual","valor":3},
{"cidade":"Sítio do Mato","data":"2020-09-01","tipo":"atual","valor":6},
{"cidade":"Sítio do Mato","data":"2020-10-01","tipo":"atual","valor":7},
{"cidade":"Sítio do Mato","data":"2020-10-10","tipo":"atual","valor":12},
{"cidade":"Sítio do Mato","data":"2020-11-01","tipo":"atual","valor":18},
{"cidade":"Sítio do Mato","data":"2020-12-01","tipo":"atual","valor":21},
{"cidade":"Sítio do Mato","data":"2020-12-15","tipo":"atual","valor":23},
{"cidade":"Sítio do Mato","data":"2021-01-01","tipo":"atual","valor":25},
{"cidade":"Sítio do Mato","data":"2021-01-20","tipo":"atual","valor":30},
{"cidade":"Sítio do Mato","data":"2021-01-25","tipo":"atual","valor":60},
{"cidade":"Sítio do Mato","data":"2021-02-01","tipo":"atual","valor":70},
{"cidade":"Sítio do Mato","data":"2021-02-15","tipo":"atual","valor":80},
{"cidade":"Sítio do Mato","data":"2021-03-01","tipo":"atual","valor":90},
{"cidade":"Sítio do Mato","data":"2021-03-15","tipo":"atual","valor":92},
{"cidade":"Sítio do Mato","data":"2021-03-25","tipo":"atual","valor":108},
{"cidade":"Sítio do Mato","data":"2021-04-01","tipo":"atual","valor":142},
{"cidade":"Sítio do Mato","data":"2021-04-15","tipo":"atual","valor":158},
{"cidade":"Sítio do Mato","data":"2021-05-01","tipo":"atual","valor":172},
{"cidade":"Sítio do Mato","data":"2021-05-15","tipo":"atual","valor":198},
{"cidade":"Sítio do Mato","data":"2021-06-01","tipo":"atual","valor":215},
{"cidade":"Sítio do Mato","data":"2021-06-10","tipo":"atual","valor":225},
{"cidade":"Sítio do Mato","data":"2021-06-15","tipo":"atual","valor":238},
{"cidade":"Sítio do Mato","data":"2021-07-01","tipo":"atual","valor":245},
{"cidade":"Sítio do Mato","data":"2021-07-15","tipo":"atual","valor":252},
{"cidade":"Sítio do Mato","data":"2021-08-01","tipo":"atual","valor":258},
{"cidade":"Sítio do Mato","data":"2021-09-01","tipo":"atual","valor":259},
{"cidade":"Sítio do Mato","data":"2021-09-23","tipo":"atual","valor":260},
{"cidade":"Sítio do Mato","data":"2021-09-23","tipo":"previsto","valor":260,"inferior":260,"superior":260},
{"cidade":"Sítio do Mato","data":"2021-10-03","tipo":"previsto","valor":261,"inferior":246,"superior":275},
{"cidade":"Sítio do Mato","data":"2021-10-13","tipo":"previsto","valor":262,"inferior":240,"superior":281.6}
]},
"data": {"name": "casos"},
"columns": 3,
"spacing": {"row": 56, "column": 63},
"bounds": "flush",
"resolve": {"scale": {"color": "independent", "strokeDash": "independent", "shape": "independent", "x": "independent", "y": "independent"}},
"concat": [
{"width": 312, "height": 184, "title": "Projeção para os próximos 20 dias para a cidade de Bom Jesus da Lapa",
 "transform": [{"filter": {"field": "cidade", "equal": "Bom Jesus da Lapa"}}],
 "encoding": {"x": {"field": "data", "type": "temporal", "title": "Ano/Mês", "scale": {"domain": [{"year":2020,"month":2,"date":21},{"year":2021,"month":11,"date":10}], "nice": false}, "axis": {"format": "%y/%m", "values": [{"year":2020,"month":3,"date":1},{"year":2020,"month":5,"date":1},{"year":2020,"month":7,"date":1},{"year":2020,"month":9,"date":1},{"year":2020,"month":11,"date":1},{"year":2021,"month":1,"date":1},{"year":2021,"month":3,"date":1},{"year":2021,"month":5,"date":1},{"year":2021,"month":7,"date":1},{"year":2021,"month":9,"date":1},{"year":2021,"month":11,"date":1}]}}},
 "layer": [
  {"transform": [{"filter": "datum.tipo === 'previsto'"}], "mark": {"type": "area", "opacity": 0.7},
   "encoding": {"y": {"field": "inferior", "type": "quantitative", "title": "Casos Acumulados", "scale": {"domain": [-317, 6657], "nice": false, "zero": false}, "axis": {"format": "d", "values": [0,1000,2000,3000,4000,5000,6000]}}, "y2": {"field": "superior"},
    "color": {"datum": "Intervalo de Confiança de 95%", "type": "nominal", "scale": {"domain": ["Casos Acumulados Atuais", "Casos Acumulados Previsos", "Intervalo de Confiança de 95%"], "range": ["#2ca02c", "#ff0000", "#dedede"]}, "legend": {"title": null}}}},
  {"transform": [{"filter": "datum.tipo === 'atual'"}], "mark": {"type": "line"},
   "encoding": {"y": {"field": "valor", "type": "quantitative", "title": "Casos Acumulados", "axis": {"format": "d", "values": [0,1000,2000,3000,4000,5000,6000]}},
    "color": {"datum": "Casos Acumulados Atuais", "type": "nominal", "legend": {"title": null}},
    "strokeDash": {"datum": "Casos Acumulados Atuais", "type": "nominal", "scale": {"domain": ["Casos Acumulados Atuais", "Casos Acumulados Previsos", "Intervalo de Confiança de 95%"], "range": [[1,0],[4,2],[1,0]]}, "legend": {"title": null}}}},
  {"transform": [{"filter": "datum.tipo === 'previsto'"}], "mark": {"type": "line"},
   "encoding": {"y": {"field": "valor", "type": "quantitative", "title": "Casos Acumulados", "axis": {"format": "d", "values": [0,1000,2000,3000,4000,5000,6000]}},
    "color": {"datum": "Casos Acumulados Previsos", "type": "nominal", "legend": {"title": null}},
    "strokeDash": {"datum": "Casos Acumulados Previsos", "type": "nominal", "legend": {"title": null}}}},
  {"transform": [{"filter": "datum.tipo === 'previsto'"}], "mark": {"type": "point", "opacity": 0},
   "encoding": {"y": {"field": "valor", "type": "quantitative", "title": "Casos Acumulados", "axis": {"format": "d", "values": [0,1000,2000,3000,4000,5000,6000]}},
    "shape": {"datum": "Intervalo de Confiança de 95%", "type": "nominal", "scale": {"domain": ["Casos Acumulados Atuais", "Casos Acumulados Previsos", "Intervalo de Confiança de 95%"], "range": ["stroke", "stroke", "M-1,-0.32H1V0.32H-1Z"]}, "legend": {"title": null}}}}
 ]},
{"width": 312, "height": 184, "title": "Projeção para os próximos 20 dias para a cidade de Canápolis",
 "transform": [{"filter": {"field": "cidade", "equal": "Canápolis"}}],
 "encoding": {"x": {"field": "data", "type": "temporal", "title": "Ano/Mês", "scale": {"domain": [{"year":2020,"month":2,"date":21},{"year":2021,"month":11,"date":10}], "nice": false}, "axis": {"format": "%y/%m", "values": [{"year":2020,"month":3,"date":1},{"year":2020,"month":5,"date":1},{"year":2020,"month":7,"date":1},{"year":2020,"month":9,"date":1},{"year":2020,"month":11,"date":1},{"year":2021,"month":1,"date":1},{"year":2021,"month":3,"date":1},{"year":2021,"month":5,"date":1},{"year":2021,"month":7,"date":1},{"year":2021,"month":9,"date":1},{"year":2021,"month":11,"date":1}]}}},
 "layer": [
  {"transform": [{"filter": "datum.tipo === 'previsto'"}], "mark": {"type": "area", "opacity": 0.7},
   "encoding": {"y": {"field": "inferior", "type": "quantitative", "title": "Casos Acumulados", "scale": {"domain": [-24, 506], "nice": false, "zero": false}, "axis": {"format": "d", "values": [0,100,200,300,400,500]}}, "y2": {"field": "superior"},
    "color": {"datum": "Intervalo de Confiança de 95%", "type": "nominal", "scale": {"domain": ["Casos Acumulados Atuais", "Casos Acumulados Previsos", "Intervalo de Confiança de 95%"], "range": ["#2ca02c", "#ff0000", "#dedede"]}, "legend": {"title": null}}}},
  {"transform": [{"filter": "datum.tipo === 'atual'"}], "mark": {"type": "line"},
   "encoding": {"y": {"field": "valor", "type": "quantitative", "title": "Casos Acumulados", "axis": {"format": "d", "values": [0,100,200,300,400,500]}},
    "color": {"datum": "Casos Acumulados Atuais", "type": "nominal", "legend": {"title": null}},
    "strokeDash": {"datum": "Casos Acumulados Atuais", "type": "nominal", "scale": {"domain": ["Casos Acumulados Atuais", "Casos Acumulados Previsos", "Intervalo de Confiança de 95%"], "range": [[1,0],[4,2],[1,0]]}, "legend": {"title": null}}}},
  {"transform": [{"filter": "datum.tipo === 'previsto'"}], "mark": {"type": "line"},
   "encoding": {"y": {"field": "valor", "type": "quantitative", "title": "Casos Acumulados", "axis": {"format": "d", "values": [0,100,200,300,400,500]}},
    "color": {"datum": "Casos Acumulados Previsos", "type": "nominal", "legend": {"title": null}},
    "strokeDash": {"datum": "Casos Acumulados Previsos", "type": "nominal", "legend": {"title": null}}}},
  {"transform": [{"filter": "datum.tipo === 'previsto'"}], "mark": {"type": "point", "opacity": 0},
   "encoding": {"y": {"field": "valor", "type": "quantitative", "title": "Casos Acumulados", "axis": {"format": "d", "values": [0,100,200,300,400,500]}},
    "shape": {"datum": "Intervalo de Confiança de 95%", "type": "nominal", "scale": {"domain": ["Casos Acumulados Atuais", "Casos Acumulados Previsos", "Intervalo de Confiança de 95%"], "range": ["stroke", "stroke", "M-1,-0.32H1V0.32H-1Z"]}, "legend": {"title": null}}}}
 ]},
{"width": 312, "height": 184, "title": "Projeção para os próximos 20 dias para a cidade de Cocos",
 "transform": [{"filter": {"field": "cidade", "equal": "Cocos"}}],
 "encoding": {"x": {"field": "data", "type": "temporal", "title": "Ano/Mês", "scale": {"domain": [{"year":2020,"month":2,"date":21},{"year":2021,"month":11,"date":10}], "nice": false}, "axis": {"format": "%y/%m", "values": [{"year":2020,"month":3,"date":1},{"year":2020,"month":5,"date":1},{"year":2020,"month":7,"date":1},{"year":2020,"month":9,"date":1},{"year":2020,"month":11,"date":1},{"year":2021,"month":1,"date":1},{"year":2021,"month":3,"date":1},{"year":2021,"month":5,"date":1},{"year":2021,"month":7,"date":1},{"year":2021,"month":9,"date":1},{"year":2021,"month":11,"date":1}]}}},
 "layer": [
  {"transform": [{"filter": "datum.tipo === 'previsto'"}], "mark": {"type": "area", "opacity": 0.7},
   "encoding": {"y": {"field": "inferior", "type": "quantitative", "title": "Casos Acumulados", "scale": {"domain": [-66, 1378], "nice": false, "zero": false}, "axis": {"format": "d", "values": [0,200,400,600,800,1000,1200]}}, "y2": {"field": "superior"},
    "color": {"datum": "Intervalo de Confiança de 95%", "type": "nominal", "scale": {"domain": ["Casos Acumulados Atuais", "Casos Acumulados Previsos", "Intervalo de Confiança de 95%"], "range": ["#2ca02c", "#ff0000", "#dedede"]}, "legend": {"title": null}}}},
  {"transform": [{"filter": "datum.tipo === 'atual'"}], "mark": {"type": "line"},
   "encoding": {"y": {"field": "valor", "type": "quantitative", "title": "Casos Acumulados", "axis": {"format": "d", "values": [0,200,400,600,800,1000,1200]}},
    "color": {"datum": "Casos Acumulados Atuais", "type": "nominal", "legend": {"title": null}},
    "strokeDash": {"datum": "Casos Acumulados Atuais", "type": "nominal", "scale": {"domain": ["Casos Acumulados Atuais", "Casos Acumulados Previsos", "Intervalo de Confiança de 95%"], "range": [[1,0],[4,2],[1,0]]}, "legend": {"title": null}}}},
  {"transform": [{"filter": "datum.tipo === 'previsto'"}], "mark": {"type": "line"},
   "encoding": {"y": {"field": "valor", "type": "quantitative", "title": "Casos Acumulados", "axis": {"format": "d", "values": [0,200,400,600,800,1000,1200]}},
    "color": {"datum": "Casos Acumulados Previsos", "type": "nominal", "legend": {"title": null}},
    "strokeDash": {"datum": "Casos Acumulados Previsos", "type": "nominal", "legend": {"title": null}}}},
  {"transform": [{"filter": "datum.tipo === 'previsto'"}], "mark": {"type": "point", "opacity": 0},
   "encoding": {"y": {"field": "valor", "type": "quantitative", "title": "Casos Acumulados", "axis": {"format": "d", "values": [0,200,400,600,800,1000,1200]}},
    "shape": {"datum": "Intervalo de Confiança de 95%", "type": "nominal", "scale": {"domain": ["Casos Acumulados Atuais", "Casos Acumulados Previsos", "Intervalo de Confiança de 95%"], "range": ["stroke", "stroke", "M-1,-0.32H1V0.32H-1Z"]}, "legend": {"title": null}}}}
 ]},
{"width": 312, "height": 184, "title": "Projeção para os próximos 20 dias para a cidade de Coribe",
 "transform": [{"filter": {"field": "cidade", "equal": "Coribe"}}],
 "encoding": {"x": {"field": "data", "type": "temporal", "title": "Ano/Mês", "scale": {"domain": [{"year":2020,"month":2,"date":21},{"year":2021,"month":11,"date":10}], "nice": false}, "axis": {"format": "%y/%m", "values": [{"year":2020,"month":3,"date":1},{"year":2020,"month":5,"date":1},{"year":2020,"month":7,"date":1},{"year":2020,"month":9,"date":1},{"year":2020,"month":11,"date":1},{"year":2021,"month":1,"date":1},{"year":2021,"month":3,"date":1},{"year":2021,"month":5,"date":1},{"year":2021,"month":7,"date":1},{"year":2021,"month":9,"date":1},{"year":2021,"month":11,"date":1}]}}},
 "layer": [
  {"transform": [{"filter": "datum.tipo === 'previsto'"}], "mark": {"type": "area", "opacity": 0.7},
   "encoding": {"y": {"field": "inferior", "type": "quantitative", "title": "Casos Acumulados", "scale": {"domain": [-48.5, 1018.5], "nice": false, "zero": false}, "axis": {"format": "d", "values": [0,200,400,600,800,1000]}}, "y2": {"field": "superior"},
    "color": {"datum": "Intervalo de Confiança de 95%", "type": "nominal", "scale": {"domain": ["Casos Acumulados Atuais", "Casos Acumulados Previsos", "Intervalo de Confiança de 95%"], "range": ["#2ca02c", "#ff0000", "#dedede"]}, "legend": {"title": null}}}},
  {"transform": [{"filter": "datum.tipo === 'atual'"}], "mark": {"type": "line"},
   "encoding": {"y": {"field": "valor", "type": "quantitative", "title": "Casos Acumulados", "axis": {"format": "d", "values": [0,200,400,600,800,1000]}},
    "color": {"datum": "Casos Acumulados Atuais", "type": "nominal", "legend": {"title": null}},
    "strokeDash": {"datum": "Casos Acumulados Atuais", "type": "nominal", "scale": {"domain": ["Casos Acumulados Atuais", "Casos Acumulados Previsos", "Intervalo de Confiança de 95%"], "range": [[1,0],[4,2],[1,0]]}, "legend": {"title": null}}}},
  {"transform": [{"filter": "datum.tipo === 'previsto'"}], "mark": {"type": "line"},
   "encoding": {"y": {"field": "valor", "type": "quantitative", "title": "Casos Acumulados", "axis": {"format": "d", "values": [0,200,400,600,800,1000]}},
    "color": {"datum": "Casos Acumulados Previsos", "type": "nominal", "legend": {"title": null}},
    "strokeDash": {"datum": "Casos Acumulados Previsos", "type": "nominal", "legend": {"title": null}}}},
  {"transform": [{"filter": "datum.tipo === 'previsto'"}], "mark": {"type": "point", "opacity": 0},
   "encoding": {"y": {"field": "valor", "type": "quantitative", "title": "Casos Acumulados", "axis": {"format": "d", "values": [0,200,400,600,800,1000]}},
    "shape": {"datum": "Intervalo de Confiança de 95%", "type": "nominal", "scale": {"domain": ["Casos Acumulados Atuais", "Casos Acumulados Previsos", "Intervalo de Confiança de 95%"], "range": ["stroke", "stroke", "M-1,-0.32H1V0.32H-1Z"]}, "legend": {"title": null}}}}
 ]},
{"width": 312, "height": 184, "title": "Projeção para os próximos 20 dias para a cidade de Correntina",
 "transform": [{"filter": {"field": "cidade", "equal": "Correntina"}}],
 "encoding": {"x": {"field": "data", "type": "temporal", "title": "Ano/Mês", "scale": {"domain": [{"year":2020,"month":2,"date":21},{"year":2021,"month":11,"date":10}], "nice": false}, "axis": {"format": "%y/%m", "values": [{"year":2020,"month":3,"date":1},{"year":2020,"month":5,"date":1},{"year":2020,"month":7,"date":1},{"year":2020,"month":9,"date":1},{"year":2020,"month":11,"date":1},{"year":2021,"month":1,"date":1},{"year":2021,"month":3,"date":1},{"year":2021,"month":5,"date":1},{"year":2021,"month":7,"date":1},{"year":2021,"month":9,"date":1},{"year":2021,"month":11,"date":1}]}}},
 "layer": [
  {"transform": [{"filter": "datum.tipo === 'previsto'"}], "mark": {"type": "area", "opacity": 0.7},
   "encoding": {"y": {"field": "inferior", "type": "quantitative", "title": "Casos Acumulados", "scale": {"domain": [-181, 3801], "nice": false, "zero": false}, "axis": {"format": "d", "values": [0,500,1000,1500,2000,2500,3000,3500]}}, "y2": {"field": "superior"},
    "color": {"datum": "Intervalo de Confiança de 95%", "type": "nominal", "scale": {"domain": ["Casos Acumulados Atuais", "Casos Acumulados Previsos", "Intervalo de Confiança de 95%"], "range": ["#2ca02c", "#ff0000", "#dedede"]}, "legend": {"title": null}}}},
  {"transform": [{"filter": "datum.tipo === 'atual'"}], "mark": {"type": "line"},
   "encoding": {"y": {"field": "valor", "type": "quantitative", "title": "Casos Acumulados", "axis": {"format": "d", "values": [0,500,1000,1500,2000,2500,3000,3500]}},
    "color": {"datum": "Casos Acumulados Atuais", "type": "nominal", "legend": {"title": null}},
    "strokeDash": {"datum": "Casos Acumulados Atuais", "type": "nominal", "scale": {"domain": ["Casos Acumulados Atuais", "Casos Acumulados Previsos", "Intervalo de Confiança de 95%"], "range": [[1,0],[4,2],[1,0]]}, "legend": {"title": null}}}},
  {"transform": [{"filter": "datum.tipo === 'previsto'"}], "mark": {"type": "line"},
   "encoding": {"y": {"field": "valor", "type": "quantitative", "title": "Casos Acumulados", "axis": {"format": "d", "values": [0,500,1000,1500,2000,2500,3000,3500]}},
    "color": {"datum": "Casos Acumulados Previsos", "type": "nominal", "legend": {"title": null}},
    "strokeDash": {"datum": "Casos Acumulados Previsos", "type": "nominal", "legend": {"title": null}}}},
  {"transform": [{"filter": "datum.tipo === 'previsto'"}], "mark": {"type": "point", "opacity": 0},
   "encoding": {"y": {"field": "valor", "type": "quantitative", "title": "Casos Acumulados", "axis": {"format": "d", "values": [0,500,1000,1500,2000,2500,3000,3500]}},
    "shape": {"datum": "Intervalo de Confiança de 95%", "type": "nominal", "scale": {"domain": ["Casos Acumulados Atuais", "Casos Acumulados Previsos", "Intervalo de Confiança de 95%"], "range": ["stroke", "stroke", "M-1,-0.32H1V0.32H-1Z"]}, "legend": {"title": null}}}}
 ]},
{"width": 312, "height": 184, "title": "Projeção para os próximos 20 dias para a cidade de Jaborandi",
 "transform": [{"filter": {"field": "cidade", "equal": "Jaborandi"}}],
 "encoding": {"x": {"field": "data", "type": "temporal", "title": "Ano/Mês", "scale": {"domain": [{"year":2020,"month":2,"date":21},{"year":2021,"month":11,"date":10}], "nice": false}, "axis": {"format": "%y/%m", "values": [{"year":2020,"month":3,"date":1},{"year":2020,"month":5,"date":1},{"year":2020,"month":7,"date":1},{"year":2020,"month":9,"date":1},{"year":2020,"month":11,"date":1},{"year":2021,"month":1,"date":1},{"year":2021,"month":3,"date":1},{"year":2021,"month":5,"date":1},{"year":2021,"month":7,"date":1},{"year":2021,"month":9,"date":1},{"year":2021,"month":11,"date":1}]}}},
 "layer": [
  {"transform": [{"filter": "datum.tipo === 'previsto'"}], "mark": {"type": "area", "opacity": 0.7},
   "encoding": {"y": {"field": "inferior", "type": "quantitative", "title": "Casos Acumulados", "scale": {"domain": [-47, 988], "nice": false, "zero": false}, "axis": {"format": "d", "values": [0,200,400,600,800]}}, "y2": {"field": "superior"},
    "color": {"datum": "Intervalo de Confiança de 95%", "type": "nominal", "scale": {"domain": ["Casos Acumulados Atuais", "Casos Acumulados Previsos", "Intervalo de Confiança de 95%"], "range": ["#2ca02c", "#ff0000", "#dedede"]}, "legend": {"title": null}}}},
  {"transform": [{"filter": "datum.tipo === 'atual'"}], "mark": {"type": "line"},
   "encoding": {"y": {"field": "valor", "type": "quantitative", "title": "Casos Acumulados", "axis": {"format": "d", "values": [0,200,400,600,800]}},
    "color": {"datum": "Casos Acumulados Atuais", "type": "nominal", "legend": {"title": null}},
    "strokeDash": {"datum": "Casos Acumulados Atuais", "type": "nominal", "scale": {"domain": ["Casos Acumulados Atuais", "Casos Acumulados Previsos", "Intervalo de Confiança de 95%"], "range": [[1,0],[4,2],[1,0]]}, "legend": {"title": null}}}},
  {"transform": [{"filter": "datum.tipo === 'previsto'"}], "mark": {"type": "line"},
   "encoding": {"y": {"field": "valor", "type": "quantitative", "title": "Casos Acumulados", "axis": {"format": "d", "values": [0,200,400,600,800]}},
    "color": {"datum": "Casos Acumulados Previsos", "type": "nominal", "legend": {"title": null}},
    "strokeDash": {"datum": "Casos Acumulados Previsos", "type": "nominal", "legend": {"title": null}}}},
  {"transform": [{"filter": "datum.tipo === 'previsto'"}], "mark": {"type": "point", "opacity": 0},
   "encoding": {"y": {"field": "valor", "type": "quantitative", "title": "Casos Acumulados", "axis": {"format": "d", "values": [0,200,400,600,800]}},
    "shape": {"datum": "Intervalo de Confiança de 95%", "type": "nominal", "scale": {"domain": ["Casos Acumulados Atuais", "Casos Acumulados Previsos", "Intervalo de Confiança de 95%"], "range": ["stroke", "stroke", "M-1,-0.32H1V0.32H-1Z"]}, "legend": {"title": null}}}}
 ]},
{"width": 312, "height": 184, "title": "Projeção para os próximos 20 dias para a cidade de Santa Maria da Vitória",
 "transform": [{"filter": {"field": "cidade", "equal": "Santa Maria da Vitória"}}],
 "encoding": {"x": {"field": "data", "type": "temporal", "title": "Ano/Mês", "scale": {"domain": [{"year":2020,"month":2,"date":21},{"year":2021,"month":11,"date":10}], "nice": false}, "axis": {"format": "%y/%m", "values": [{"year":2020,"month":3,"date":1},{"year":2020,"month":5,"date":1},{"year":2020,"month":7,"date":1},{"year":2020,"month":9,"date":1},{"year":2020,"month":11,"date":1},{"year":2021,"month":1,"date":1},{"year":2021,"month":3,"date":1},{"year":2021,"month":5,"date":1},{"year":2021,"month":7,"date":1},{"year":2021,"month":9,"date":1},{"year":2021,"month":11,"date":1}]}}},
 "layer": [
  {"transform": [{"filter": "datum.tipo === 'previsto'"}], "mark": {"type": "area", "opacity": 0.7},
   "encoding": {"y": {"field": "inferior", "type": "quantitative", "title": "Casos Acumulados", "scale": {"domain": [-178, 3740], "nice": false, "zero": false}, "axis": {"format": "d", "values": [0,500,1000,1500,2000,2500,3000,3500]}}, "y2": {"field": "superior"},
    "color": {"datum": "Intervalo de Confiança de 95%", "type": "nominal", "scale": {"domain": ["Casos Acumulados Atuais", "Casos Acumulados Previsos", "Intervalo de Confiança de 95%"], "range": ["#2ca02c", "#ff0000", "#dedede"]}, "legend": {"title": null}}}},
  {"transform": [{"filter": "datum.tipo === 'atual'"}], "mark": {"type": "line"},
   "encoding": {"y": {"field": "valor", "type": "quantitative", "title": "Casos Acumulados", "axis": {"format": "d", "values": [0,500,1000,1500,2000,2500,3000,3500]}},
    "color": {"datum": "Casos Acumulados Atuais", "type": "nominal", "legend": {"title": null}},
    "strokeDash": {"datum": "Casos Acumulados Atuais", "type": "nominal", "scale": {"domain": ["Casos Acumulados Atuais", "Casos Acumulados Previsos", "Intervalo de Confiança de 95%"], "range": [[1,0],[4,2],[1,0]]}, "legend": {"title": null}}}},
  {"transform": [{"filter": "datum.tipo === 'previsto'"}], "mark": {"type": "line"},
   "encoding": {"y": {"field": "valor", "type": "quantitative", "title": "Casos Acumulados", "axis": {"format": "d", "values": [0,500,1000,1500,2000,2500,3000,3500]}},
    "color": {"datum": "Casos Acumulados Previsos", "type": "nominal", "legend": {"title": null}},
    "strokeDash": {"datum": "Casos Acumulados Previsos", "type": "nominal", "legend": {"title": null}}}},
  {"transform": [{"filter": "datum.tipo === 'previsto'"}], "mark": {"type": "point", "opacity": 0},
   "encoding": {"y": {"field": "valor", "type": "quantitative", "title": "Casos Acumulados", "axis": {"format": "d", "values": [0,500,1000,1500,2000,2500,3000,3500]}},
    "shape": {"datum": "Intervalo de Confiança de 95%", "type": "nominal", "scale": {"domain": ["Casos Acumulados Atuais", "Casos Acumulados Previsos", "Intervalo de Confiança de 95%"], "range": ["stroke", "stroke", "M-1,-0.32H1V0.32H-1Z"]}, "legend": {"title": null}}}}
 ]},
{"width": 312, "height": 184, "title": "Projeção para os próximos 20 dias para a cidade de Santana",
 "transform": [{"filter": {"field": "cidade", "equal": "Santana"}}],
 "encoding": {"x": {"field": "data", "type": "temporal", "title": "Ano/Mês", "scale": {"domain": [{"year":2020,"month":2,"date":21},{"year":2021,"month":11,"date":10}], "nice": false}, "axis": {"format": "%y/%m", "values": [{"year":2020,"month":3,"date":1},{"year":2020,"month":5,"date":1},{"year":2020,"month":7,"date":1},{"year":2020,"month":9,"date":1},{"year":2020,"month":11,"date":1},{"year":2021,"month":1,"date":1},{"year":2021,"month":3,"date":1},{"year":2021,"month":5,"date":1},{"year":2021,"month":7,"date":1},{"year":2021,"month":9,"date":1},{"year":2021,"month":11,"date":1}]}}},
 "layer": [
  {"transform": [{"filter": "datum.tipo === 'previsto'"}], "mark": {"type": "area", "opacity": 0.7},
   "encoding": {"y": {"field": "inferior", "type": "quantitative", "title": "Casos Acumulados", "scale": {"domain": [-61, 1283], "nice": false, "zero": false}, "axis": {"format": "d", "values": [0,200,400,600,800,1000,1200]}}, "y2": {"field": "superior"},
    "color": {"datum": "Intervalo de Confiança de 95%", "type": "nominal", "scale": {"domain": ["Casos Acumulados Atuais", "Casos Acumulados Previsos", "Intervalo de Confiança de 95%"], "range": ["#2ca02c", "#ff0000", "#dedede"]}, "legend": {"title": null}}}},
  {"transform": [{"filter": "datum.tipo === 'atual'"}], "mark": {"type": "line"},
   "encoding": {"y": {"field": "valor", "type": "quantitative", "title": "Casos Acumulados", "axis": {"format": "d", "values": [0,200,400,600,800,1000,1200]}},
    "color": {"datum": "Casos Acumulados Atuais", "type": "nominal", "legend": {"title": null}},
    "strokeDash": {"datum": "Casos Acumulados Atuais", "type": "nominal", "scale": {"domain": ["Casos Acumulados Atuais", "Casos Acumulados Previsos", "Intervalo de Confiança de 95%"], "range": [[1,0],[4,2],[1,0]]}, "legend": {"title": null}}}},
  {"transform": [{"filter": "datum.tipo === 'previsto'"}], "mark": {"type": "line"},
   "encoding": {"y": {"field": "valor", "type": "quantitative", "title": "Casos Acumulados", "axis": {"format": "d", "values": [0,200,400,600,800,1000,1200]}},
    "color": {"datum": "Casos Acumulados Previsos", "type": "nominal", "legend": {"title": null}},
    "strokeDash": {"datum": "Casos Acumulados Previsos", "type": "nominal", "legend": {"title": null}}}},
  {"transform": [{"filter": "datum.tipo === 'previsto'"}], "mark": {"type": "point", "opacity": 0},
   "encoding": {"y": {"field": "valor", "type": "quantitative", "title": "Casos Acumulados", "axis": {"format": "d", "values": [0,200,400,600,800,1000,1200]}},
    "shape": {"datum": "Intervalo de Confiança de 95%", "type": "nominal", "scale": {"domain": ["Casos Acumulados Atuais", "Casos Acumulados Previsos", "Intervalo de Confiança de 95%"], "range": ["stroke", "stroke", "M-1,-0.32H1V0.32H-1Z"]}, "legend": {"title": null}}}}
 ]},
{"width": 312, "height": 184, "title": "Projeção para os próximos 20 dias para a cidade de São Félix do Coribe",
 "transform": [{"filter": {"field": "cidade", "equal": "São Félix do Coribe"}}],
 "encoding": {"x": {"field": "data", "type": "temporal", "title": "Ano/Mês", "scale": {"domain": [{"year":2020,"month":2,"date":21},{"year":2021,"month":11,"date":10}], "nice": false}, "axis": {"format": "%y/%m", "values": [{"year":2020,"month":3,"date":1},{"year":2020,"month":5,"date":1},{"year":2020,"month":7,"date":1},{"year":2020,"month":9,"date":1},{"year":2020,"month":11,"date":1},{"year":2021,"month":1,"date":1},{"year":2021,"month":3,"date":1},{"year":2021,"month":5,"date":1},{"year":2021,"month":7,"date":1},{"year":2021,"month":9,"date":1},{"year":2021,"month":11,"date":1}]}}},
 "layer": [
  {"transform": [{"filter": "datum.tipo === 'previsto'"}], "mark": {"type": "area", "opacity": 0.7},
   "encoding": {"y": {"field": "inferior", "type": "quantitative", "title": "Casos Acumulados", "scale": {"domain": [-67, 1410], "nice": false, "zero": false}, "axis": {"format": "d", "values": [0,200,400,600,800,1000,1200,1400]}}, "y2": {"field": "superior"},
    "color": {"datum": "Intervalo de Confiança de 95%", "type": "nominal", "scale": {"domain": ["Casos Acumulados Atuais", "Casos Acumulados Previsos", "Intervalo de Confiança de 95%"], "range": ["#2ca02c", "#ff0000", "#dedede"]}, "legend": {"title": null}}}},
  {"transform": [{"filter": "datum.tipo === 'atual'"}], "mark": {"type": "line"},
   "encoding": {"y": {"field": "valor", "type": "quantitative", "title": "Casos Acumulados", "axis": {"format": "d", "values": [0,200,400,600,800,1000,1200,1400]}},
    "color": {"datum": "Casos Acumulados Atuais", "type": "nominal", "legend": {"title": null}},
    "strokeDash": {"datum": "Casos Acumulados Atuais", "type": "nominal", "scale": {"domain": ["Casos Acumulados Atuais", "Casos Acumulados Previsos", "Intervalo de Confiança de 95%"], "range": [[1,0],[4,2],[1,0]]}, "legend": {"title": null}}}},
  {"transform": [{"filter": "datum.tipo === 'previsto'"}], "mark": {"type": "line"},
   "encoding": {"y": {"field": "valor", "type": "quantitative", "title": "Casos Acumulados", "axis": {"format": "d", "values": [0,200,400,600,800,1000,1200,1400]}},
    "color": {"datum": "Casos Acumulados Previsos", "type": "nominal", "legend": {"title": null}},
    "strokeDash": {"datum": "Casos Acumulados Previsos", "type": "nominal", "legend": {"title": null}}}},
  {"transform": [{"filter": "datum.tipo === 'previsto'"}], "mark": {"type": "point", "opacity": 0},
   "encoding": {"y": {"field": "valor", "type": "quantitative", "title": "Casos Acumulados", "axis": {"format": "d", "values": [0,200,400,600,800,1000,1200,1400]}},
    "shape": {"datum": "Intervalo de Confiança de 95%", "type": "nominal", "scale": {"domain": ["Casos Acumulados Atuais", "Casos Acumulados Previsos", "Intervalo de Confiança de 95%"], "range": ["stroke", "stroke", "M-1,-0.32H1V0.32H-1Z"]}, "legend": {"title": null}}}}
 ]},
{"width": 312, "height": 184, "title": "Projeção para os próximos 20 dias para a cidade de Serra Dourada",
 "transform": [{"filter": {"field": "cidade", "equal": "Serra Dourada"}}],
 "encoding": {"x": {"field": "data", "type": "temporal", "title": "Ano/Mês", "scale": {"domain": [{"year":2020,"month":2,"date":21},{"year":2021,"month":11,"date":10}], "nice": false}, "axis": {"format": "%y/%m", "values": [{"year":2020,"month":3,"date":1},{"year":2020,"month":5,"date":1},{"year":2020,"month":7,"date":1},{"year":2020,"month":9,"date":1},{"year":2020,"month":11,"date":1},{"year":2021,"month":1,"date":1},{"year":2021,"month":3,"date":1},{"year":2021,"month":5,"date":1},{"year":2021,"month":7,"date":1},{"year":2021,"month":9,"date":1},{"year":2021,"month":11,"date":1}]}}},
 "layer": [
  {"transform": [{"filter": "datum.tipo === 'previsto'"}], "mark": {"type": "area", "opacity": 0.7},
   "encoding": {"y": {"field": "inferior", "type": "quantitative", "title": "Casos Acumulados", "scale": {"domain": [-38, 805], "nice": false, "zero": false}, "axis": {"format": "d", "values": [0,200,400,600,800]}}, "y2": {"field": "superior"},
    "color": {"datum": "Intervalo de Confiança de 95%", "type": "nominal", "scale": {"domain": ["Casos Acumulados Atuais", "Casos Acumulados Previsos", "Intervalo de Confiança de 95%"], "range": ["#2ca02c", "#ff0000", "#dedede"]}, "legend": {"title": null}}}},
  {"transform": [{"filter": "datum.tipo === 'atual'"}], "mark": {"type": "line"},
   "encoding": {"y": {"field": "valor", "type": "quantitative", "title": "Casos Acumulados", "axis": {"format": "d", "values": [0,200,400,600,800]}},
    "color": {"datum": "Casos Acumulados Atuais", "type": "nominal", "legend": {"title": null}},
    "strokeDash": {"datum": "Casos Acumulados Atuais", "type": "nominal", "scale": {"domain": ["Casos Acumulados Atuais", "Casos Acumulados Previsos", "Intervalo de Confiança de 95%"], "range": [[1,0],[4,2],[1,0]]}, "legend": {"title": null}}}},
  {"transform": [{"filter": "datum.tipo === 'previsto'"}], "mark": {"type": "line"},
   "encoding": {"y": {"field": "valor", "type": "quantitative", "title": "Casos Acumulados", "axis": {"format": "d", "values": [0,200,400,600,800]}},
    "color": {"datum": "Casos Acumulados Previsos", "type": "nominal", "legend": {"title": null}},
    "strokeDash": {"datum": "Casos Acumulados Previsos", "type": "nominal", "legend": {"title": null}}}},
  {"transform": [{"filter": "datum.tipo === 'previsto'"}], "mark": {"type": "point", "opacity": 0},
   "encoding": {"y": {"field": "valor", "type": "quantitative", "title": "Casos Acumulados", "axis": {"format": "d", "values": [0,200,400,600,800]}},
    "shape": {"datum": "Intervalo de Confiança de 95%", "type": "nominal", "scale": {"domain": ["Casos Acumulados Atuais", "Casos Acumulados Previsos", "Intervalo de Confiança de 95%"], "range": ["stroke", "stroke", "M-1,-0.32H1V0.32H-1Z"]}, "legend": {"title": null}}}}
 ]},
{"width": 312, "height": 184, "title": "Projeção para os próximos 20 dias para a cidade de Serra do Ramalho",
 "transform": [{"filter": {"field": "cidade", "equal": "Serra do Ramalho"}}],
 "encoding": {"x": {"field": "data", "type": "temporal", "title": "Ano/Mês", "scale": {"domain": [{"year":2020,"month":2,"date":21},{"year":2021,"month":11,"date":10}], "nice": false}, "axis": {"format": "%y/%m", "values": [{"year":2020,"month":3,"date":1},{"year":2020,"month":5,"date":1},{"year":2020,"month":7,"date":1},{"year":2020,"month":9,"date":1},{"year":2020,"month":11,"date":1},{"year":2021,"month":1,"date":1},{"year":2021,"month":3,"date":1},{"year":2021,"month":5,"date":1},{"year":2021,"month":7,"date":1},{"year":2021,"month":9,"date":1},{"year":2021,"month":11,"date":1}]}}},
 "layer": [
  {"transform": [{"filter": "datum.tipo === 'previsto'"}], "mark": {"type": "area", "opacity": 0.7},
   "encoding": {"y": {"field": "inferior", "type": "quantitative", "title": "Casos Acumulados", "scale": {"domain": [-56, 1183], "nice": false, "zero": false}, "axis": {"format": "d", "values": [0,200,400,600,800,1000]}}, "y2": {"field": "superior"},
    "color": {"datum": "Intervalo de Confiança de 95%", "type": "nominal", "scale": {"domain": ["Casos Acumulados Atuais", "Casos Acumulados Previsos", "Intervalo de Confiança de 95%"], "range": ["#2ca02c", "#ff0000", "#dedede"]}, "legend": {"title": null}}}},
  {"transform": [{"filter": "datum.tipo === 'atual'"}], "mark": {"type": "line"},
   "encoding": {"y": {"field": "valor", "type": "quantitative", "title": "Casos Acumulados", "axis": {"format": "d", "values": [0,200,400,600,800,1000]}},
    "color": {"datum": "Casos Acumulados Atuais", "type": "nominal", "legend": {"title": null}},
    "strokeDash": {"datum": "Casos Acumulados Atuais", "type": "nominal", "scale": {"domain": ["Casos Acumulados Atuais", "Casos Acumulados Previsos", "Intervalo de Confiança de 95%"], "range": [[1,0],[4,2],[1,0]]}, "legend": {"title": null}}}},
  {"transform": [{"filter": "datum.tipo === 'previsto'"}], "mark": {"type": "line"},
   "encoding": {"y": {"field": "valor", "type": "quantitative", "title": "Casos Acumulados", "axis": {"format": "d", "values": [0,200,400,600,800,1000]}},
    "color": {"datum": "Casos Acumulados Previsos", "type": "nominal", "legend": {"title": null}},
    "strokeDash": {"datum": "Casos Acumulados Previsos", "type": "nominal", "legend": {"title": null}}}},
  {"transform": [{"filter": "datum.tipo === 'previsto'"}], "mark": {"type": "point", "opacity": 0},
   "encoding": {"y": {"field": "valor", "type": "quantitative", "title": "Casos Acumulados", "axis": {"format": "d", "values": [0,200,400,600,800,1000]}},
    "shape": {"datum": "Intervalo de Confiança de 95%", "type": "nominal", "scale": {"domain": ["Casos Acumulados Atuais", "Casos Acumulados Previsos", "Intervalo de Confiança de 95%"], "range": ["stroke", "stroke", "M-1,-0.32H1V0.32H-1Z"]}, "legend": {"title": null}}}}
 ]},
{"width": 312, "height": 184, "title": "Projeção para os próximos 20 dias para a cidade de Sítio do Mato",
 "transform": [{"filter": {"field": "cidade", "equal": "Sítio do Mato"}}],
 "encoding": {"x": {"field": "data", "type": "temporal", "title": "Ano/Mês", "scale": {"domain": [{"year":2020,"month":2,"date":21},{"year":2021,"month":11,"date":10}], "nice": false}, "axis": {"format": "%y/%m", "values": [{"year":2020,"month":3,"date":1},{"year":2020,"month":5,"date":1},{"year":2020,"month":7,"date":1},{"year":2020,"month":9,"date":1},{"year":2020,"month":11,"date":1},{"year":2021,"month":1,"date":1},{"year":2021,"month":3,"date":1},{"year":2021,"month":5,"date":1},{"year":2021,"month":7,"date":1},{"year":2021,"month":9,"date":1},{"year":2021,"month":11,"date":1}]}}},
 "layer": [
  {"transform": [{"filter": "datum.tipo === 'previsto'"}], "mark": {"type": "area", "opacity": 0.7},
   "encoding": {"y": {"field": "inferior", "type": "quantitative", "title": "Casos Acumulados", "scale": {"domain": [-14, 296], "nice": false, "zero": false}, "axis": {"format": "d", "values": [0,50,100,150,200,250]}}, "y2": {"field": "superior"},
    "color": {"datum": "Intervalo de Confiança de 95%", "type": "nominal", "scale": {"domain": ["Casos Acumulados Atuais", "Casos Acumulados Previsos", "Intervalo de Confiança de 95%"], "range": ["#2ca02c", "#ff0000", "#dedede"]}, "legend": {"title": null}}}},
  {"transform": [{"filter": "datum.tipo === 'atual'"}], "mark": {"type": "line"},
   "encoding": {"y": {"field": "valor", "type": "quantitative", "title": "Casos Acumulados", "axis": {"format": "d", "values": [0,50,100,150,200,250]}},
    "color": {"datum": "Casos Acumulados Atuais", "type": "nominal", "legend": {"title": null}},
    "strokeDash": {"datum": "Casos Acumulados Atuais", "type": "nominal", "scale": {"domain": ["Casos Acumulados Atuais", "Casos Acumulados Previsos", "Intervalo de Confiança de 95%"], "range": [[1,0],[4,2],[1,0]]}, "legend": {"title": null}}}},
  {"transform": [{"filter": "datum.tipo === 'previsto'"}], "mark": {"type": "line"},
   "encoding": {"y": {"field": "valor", "type": "quantitative", "title": "Casos Acumulados", "axis": {"format": "d", "values": [0,50,100,150,200,250]}},
    "color": {"datum": "Casos Acumulados Previsos", "type": "nominal", "legend": {"title": null}},
    "strokeDash": {"datum": "Casos Acumulados Previsos", "type": "nominal", "legend": {"title": null}}}},
  {"transform": [{"filter": "datum.tipo === 'previsto'"}], "mark": {"type": "point", "opacity": 0},
   "encoding": {"y": {"field": "valor", "type": "quantitative", "title": "Casos Acumulados", "axis": {"format": "d", "values": [0,50,100,150,200,250]}},
    "shape": {"datum": "Intervalo de Confiança de 95%", "type": "nominal", "scale": {"domain": ["Casos Acumulados Atuais", "Casos Acumulados Previsos", "Intervalo de Confiança de 95%"], "range": ["stroke", "stroke", "M-1,-0.32H1V0.32H-1Z"]}, "legend": {"title": null}}}}
 ]}
],
"config": {
 "font": "DejaVu Sans",
 "view": {"stroke": "#4d4d4d", "strokeWidth": 1},
 "line": {"strokeWidth": 1.5},
 "axis": {"grid": true, "gridColor": "#d9d9d9", "gridWidth": 1, "domain": false, "tickColor": "#333333", "tickSize": 3.5, "tickWidth": 1, "labelFont": "DejaVu Sans", "labelFontSize": 11, "labelColor": "#262626", "labelOverlap": false, "labelFlush": false, "labelBound": false, "titleFont": "DejaVu Sans", "titleFontSize": 9.3, "titleFontWeight": "normal", "titleColor": "#333333", "titlePadding": 3},
 "axisX": {"labelPadding": -1.5, "titlePadding": 5},
 "axisY": {"labelPadding": 3},
 "title": {"font": "DejaVu Sans", "fontSize": 9.5, "fontWeight": "normal", "color": "#262626", "offset": 4, "anchor": "middle"},
 "legend": {"orient": "top-left", "offset": 5, "padding": 4, "fillColor": "rgba(255,255,255,0.8)", "strokeColor": "#cccccc", "cornerRadius": 3, "labelFont": "DejaVu Sans", "labelFontSize": 11.4, "labelColor": "#262626", "labelOffset": 8, "symbolOffset": -4, "labelLimit": 0, "rowPadding": 4, "clipHeight": 13, "symbolType": "stroke", "symbolSize": 576, "symbolStrokeWidth": 1.5, "symbolOpacity": 1}
}
}
